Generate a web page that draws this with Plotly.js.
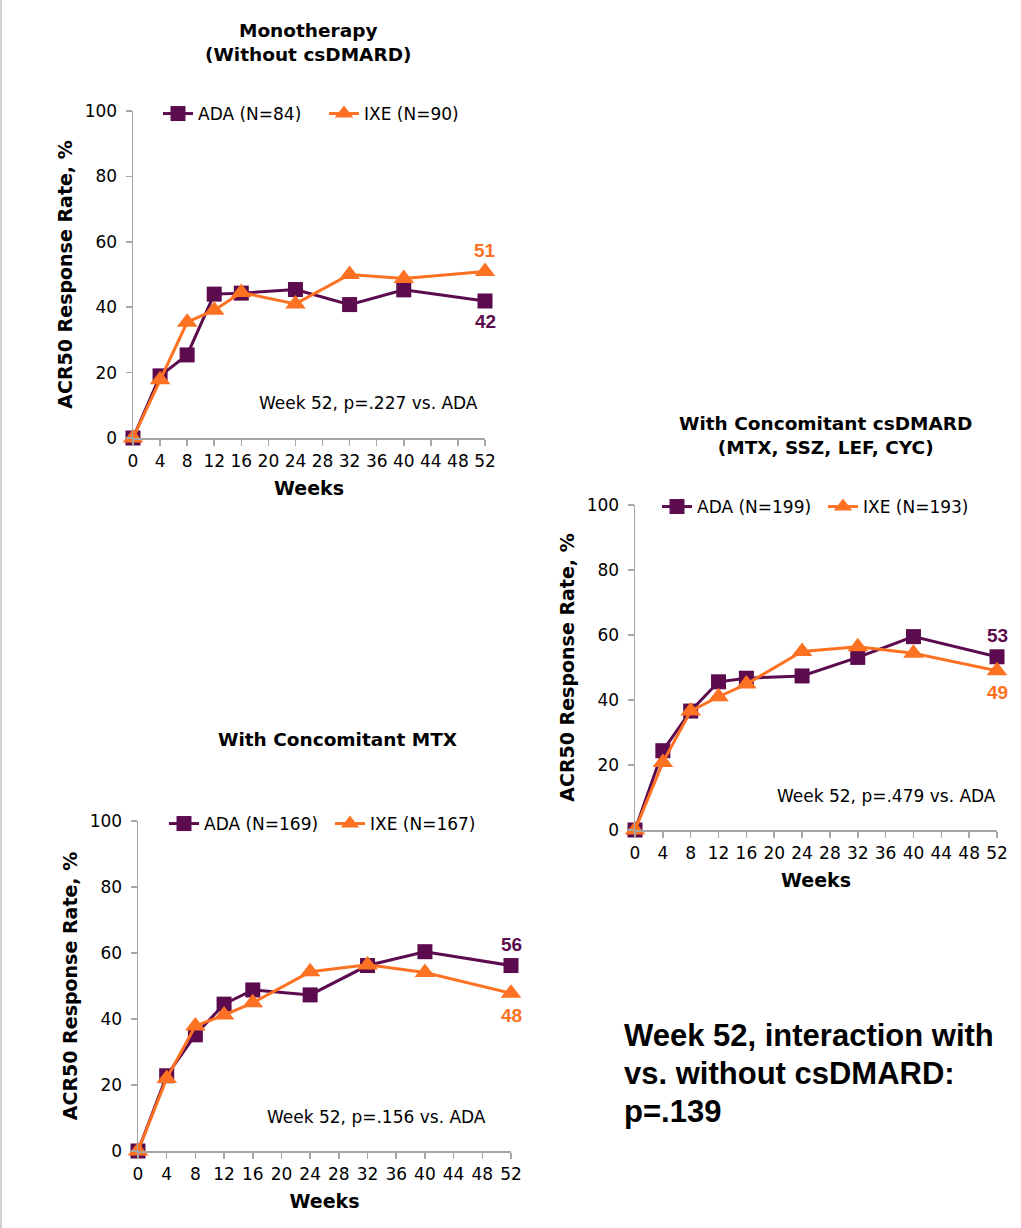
<!DOCTYPE html>
<html>
<head>
<meta charset="utf-8">
<script src="https://cdn.plot.ly/plotly-3.0.1.min.js"></script>
<style>html,body{margin:0;padding:0;background:#fff;}#chart{width:1021px;height:1228px;}</style>
</head>
<body>
<div id="chart"></div>
<script>
// ---- data ----
const weeks = [0, 4, 8, 12, 16, 24, 32, 40, 52];

const monoADA = [0, 19, 25.4, 44, 44.3, 45.4, 40.8, 45.3, 41.9];
const monoIXE = [0, 17.8, 35.4, 39.1, 44.5, 41, 50, 48.8, 50.9];

const mtxADA = [0, 22.8, 35.2, 44.5, 48.8, 47.3, 56.2, 60.4, 56.2];
const mtxIXE = [0, 22, 37.9, 41.2, 44.9, 54.3, 56.4, 54.1, 47.8];

const csADA = [0, 24.4, 36.6, 45.6, 46.7, 47.4, 53.1, 59.5, 53.3];
const csIXE = [0, 20.8, 36.6, 41, 44.9, 54.9, 56.4, 54.4, 49];

const monoNames = ['ADA (N=84)', 'IXE (N=90)'];
const mtxNames = ['ADA (N=169)', 'IXE (N=167)'];
const csNames = ['ADA (N=199)', 'IXE (N=193)'];

const xTicks = [0, 4, 8, 12, 16, 20, 24, 28, 32, 36, 40, 44, 48, 52];
const yTicks = [0, 20, 40, 60, 80, 100];

const panelTitles = ['Monotherapy<br>(Without csDMARD)', 'With Concomitant MTX', 'With Concomitant csDMARD<br>(MTX, SSZ, LEF, CYC)'];
const pTexts = ['Week 52, p=.227 vs. ADA', 'Week 52, p=.156 vs. ADA', 'Week 52, p=.479 vs. ADA'];
const noteLines = ['Week 52, interaction with', 'vs. without csDMARD:', 'p=.139'];

// ---- styling ----
const W = 1021, H = 1228;
const PURPLE = '#5b0b4e';
const ORANGE = '#fd7123';
const AXC = '#a6a6a6';
const FONT = 'DejaVu Sans, Arial, sans-serif';
const FONT_ARIAL = 'Liberation Sans, Arial, sans-serif';

function px(x) { return x / W; }
function py(y) { return 1 - y / H; }

const panels = [
  {ada: monoADA, ixe: monoIXE, names: monoNames, x0: 133, x1: 485, yTop: 111, yBot: 438, legend: 'legend', legX: 158, legY: 114, pX: 34.8, pY: 10.7},
  {ada: mtxADA, ixe: mtxIXE, names: mtxNames, x0: 138, x1: 511, yTop: 821, yBot: 1151, legend: 'legend2', legX: 164, legY: 824, pX: 33.2, pY: 10.3},
  {ada: csADA, ixe: csIXE, names: csNames, x0: 635, x1: 997, yTop: 505, yBot: 830, legend: 'legend3', legX: 657, legY: 507, pX: 36.1, pY: 10.5}
];

const traces = [];
const layout = {
  width: W, height: H,
  margin: {l: 0, r: 0, t: 0, b: 0},
  paper_bgcolor: '#fff', plot_bgcolor: '#fff',
  font: {family: FONT, color: '#000', size: 17},
  showlegend: true,
  annotations: [], shapes: []
};

panels.forEach((p, i) => {
  const sfx = i === 0 ? '' : String(i + 1);
  const xa = 'x' + sfx, ya = 'y' + sfx;
  traces.push({
    x: weeks, y: p.ada, name: p.names[0], type: 'scatter', mode: 'lines+markers',
    xaxis: xa, yaxis: ya, legend: p.legend, cliponaxis: false,
    line: {color: PURPLE, width: 3},
    marker: {symbol: 'square', size: 15, color: PURPLE}
  });
  traces.push({
    x: weeks, y: p.ixe, name: p.names[1], type: 'scatter', mode: 'lines+markers',
    xaxis: xa, yaxis: ya, legend: p.legend, cliponaxis: false,
    line: {color: ORANGE, width: 3},
    marker: {symbol: 'triangle-up', size: 18, color: ORANGE}
  });
  layout['xaxis' + sfx] = {
    domain: [px(p.x0), px(p.x1)], anchor: ya, range: [0, 52],
    tickvals: xTicks, ticks: 'outside', ticklen: 6, tickcolor: AXC, tickwidth: 1.5,
    showline: true, linecolor: AXC, linewidth: 1.5, showgrid: false, zeroline: false,
    tickfont: {size: 17, family: FONT}, ticklabelstandoff: 1,
    title: {text: '<b>Weeks</b>', font: {size: 19, family: FONT}, standoff: 12}
  };
  layout['yaxis' + sfx] = {
    domain: [py(p.yBot), py(p.yTop)], anchor: xa, range: [0, 100],
    tickvals: yTicks, ticks: 'outside', ticklen: 6, tickcolor: AXC, tickwidth: 1.5,
    showline: true, linecolor: AXC, linewidth: 1.5, showgrid: false, zeroline: false,
    tickfont: {size: 17, family: FONT}, ticklabelstandoff: 5,
    title: {text: '<b>ACR50 Response Rate, %</b>', font: {size: 19, family: FONT}, standoff: 7}
  };
  layout[p.legend] = {
    x: px(p.legX), y: py(p.legY), xanchor: 'left', yanchor: 'middle',
    orientation: 'h', bgcolor: 'rgba(0,0,0,0)', font: {size: 17, family: FONT},
    itemwidth: 30, entrywidth: 121, entrywidthmode: 'pixels'
  };
  // p-value note
  layout.annotations.push({
    xref: xa, yref: ya, x: p.pX, y: p.pY, xanchor: 'center', yanchor: 'middle',
    text: pTexts[i], showarrow: false, font: {size: 17, family: FONT}
  });
  // week 52 value labels
  const last = weeks.length - 1;
  const adaAbove = p.ada[last] > p.ixe[last];
  layout.annotations.push({
    xref: xa, yref: ya, x: weeks[last], y: p.ada[last], yshift: adaAbove ? 21 : -21,
    text: '<b>' + Math.round(p.ada[last]) + '</b>', showarrow: false,
    font: {size: 19, color: PURPLE, family: FONT_ARIAL}
  });
  layout.annotations.push({
    xref: xa, yref: ya, x: weeks[last], y: p.ixe[last], yshift: adaAbove ? -22 : 21,
    text: '<b>' + Math.round(p.ixe[last]) + '</b>', showarrow: false,
    font: {size: 19, color: ORANGE, family: FONT_ARIAL}
  });
});

// panel titles
layout.annotations.push({xref: 'paper', yref: 'paper', x: px(308), y: py(42), xanchor: 'center', yanchor: 'middle',
  text: '<b>' + panelTitles[0] + '</b>', showarrow: false, font: {size: 18.5, family: FONT}});
layout.annotations.push({xref: 'paper', yref: 'paper', x: px(337), y: py(739), xanchor: 'center', yanchor: 'middle',
  text: '<b>' + panelTitles[1] + '</b>', showarrow: false, font: {size: 18.5, family: FONT}});
layout.annotations.push({xref: 'paper', yref: 'paper', x: px(825), y: py(436), xanchor: 'center', yanchor: 'middle',
  text: '<b>' + panelTitles[2] + '</b>', showarrow: false, font: {size: 18.5, family: FONT}});
// interaction note, one line each
const noteY = [1035, 1073, 1111];
noteLines.forEach((t, k) => {
  layout.annotations.push({xref: 'paper', yref: 'paper', x: px(622), y: py(noteY[k]), xanchor: 'left', yanchor: 'middle', align: 'left',
    text: '<b>' + t + '</b>', showarrow: false, font: {size: 31, family: FONT_ARIAL}});
});

// left border line
layout.shapes.push({type: 'line', xref: 'paper', yref: 'paper', x0: px(1), x1: px(1), y0: 0, y1: 1,
  line: {color: '#d0d0d0', width: 2}});

Plotly.newPlot('chart', traces, layout, {displayModeBar: false, staticPlot: true});
</script>
</body>
</html>
